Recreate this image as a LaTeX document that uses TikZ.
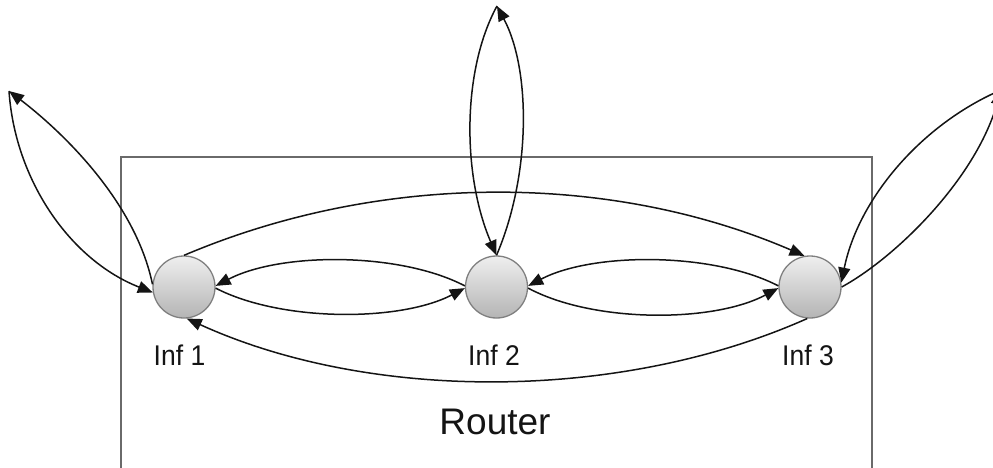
\documentclass[tikz,border=0pt]{standalone}
\usepackage{fontspec}
\setmainfont{Liberation Sans}
\newfontfamily\labelfont[FakeStretch=0.93]{Liberation Sans}
\usetikzlibrary{arrows.meta}
\definecolor{boxgray}{HTML}{6A6A6A}
\definecolor{circedge}{HTML}{7F7F7F}
\definecolor{circtop}{HTML}{EFEFEF}
\definecolor{circbot}{HTML}{B4B4B4}
\definecolor{ink}{HTML}{141414}
\tikzset{
  iface/.style={circle, minimum size=62pt, inner sep=0pt, draw=circedge, line width=1.3pt,
    top color=circtop, bottom color=circbot, shading angle=0},
  link/.style={draw=ink, line width=1.5pt, -{Triangle[length=15pt,width=12pt]}},
  lbl/.style={text=ink, inner sep=0pt, font=\labelfont\fontsize{28.5}{32}\selectfont},
  routerbox/.style={draw=boxgray, line width=2.5pt}
}
\begin{document}
\begin{tikzpicture}[x=1pt,y=-1pt]
\useasboundingbox (0,0) rectangle (993,468);
\clip (0,0) rectangle (993,468);
\draw[routerbox] (121,157) rectangle (872,490);
\node[iface] (i1) at (184,287) {};
\node[iface] (i2) at (496.5,287) {};
\node[iface] (i3) at (810,287) {};
\node[lbl] (t1) at (179.5,355) {Inf 1};
\node[lbl] (t2) at (494,355) {Inf 2};
\node[lbl] (t3) at (808,355) {Inf 3};
\node[text=ink, inner sep=0pt, font=\fontsize{37}{40}\selectfont] (rt) at (495,422) {Router};
\coordinate (p1) at (9,91);
\coordinate (p2) at (497,6);
\coordinate (p3) at (1001,90);
% Inf1 <-> Inf2
\draw[link] (i2.178) .. controls (400,252) and (281,252) .. (i1.2);
\draw[link] (i1.-2) .. controls (281,322) and (400,322) .. (i2.182);
% Inf2 <-> Inf3
\draw[link] (i3.178) .. controls (713,252) and (593,252) .. (i2.2);
\draw[link] (i2.-2) .. controls (593,323) and (713,323) .. (i3.182);
% Inf1 -> Inf3 (over)
\draw[link] (i1.north) .. controls (380,172) and (610,172) .. (i3.100);
% Inf3 -> Inf1 (under)
\draw[link] (i3.265) .. controls (620,402) and (370,402) .. (i1.275);
% left loop
\draw[link] (i1.175) .. controls (135,200) and (60,130) .. (p1);
\draw[link] (p1) .. controls (15,180) and (70,260) .. (i1.190);
% top loop
\draw[link] (i2.north) .. controls (531,175) and (531,70) .. (p2);
\draw[link] (p2) .. controls (462,70) and (462,175) .. (i2.north);
% right loop
\draw[link] (i3.east) .. controls (895,258) and (975,180) .. (p3);
\draw[link] (p3) .. controls (920,125) and (858,200) .. (i3.8);
\end{tikzpicture}
\end{document}
